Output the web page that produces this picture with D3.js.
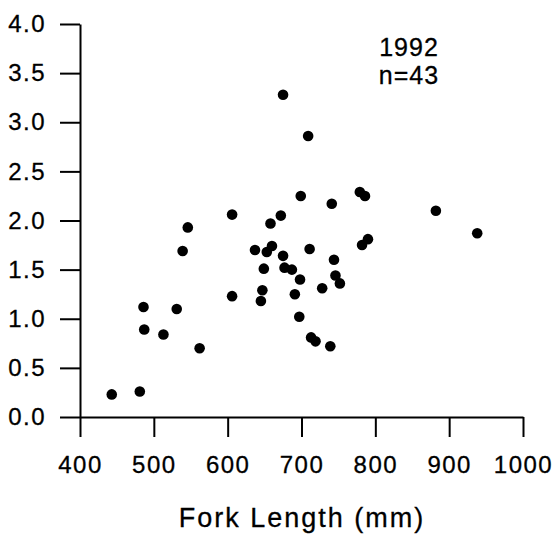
<!DOCTYPE html>
<html>
<head>
<meta charset="utf-8">
<script src="https://cdn.jsdelivr.net/npm/d3@7"></script>
<style>
  html, body { margin: 0; padding: 0; background: #fff; }
  svg { display: block; }
  text { font-family: "Liberation Sans", Arial, Helvetica, sans-serif; fill: #000; }
</style>
</head>
<body>
<svg id="chart" width="555" height="540"></svg>
<script>
// Data
const forkLength = [443, 481, 486, 487, 513, 531, 539, 546, 562, 606, 606, 637, 653, 660, 658, 672,
  649, 647, 645, 675, 677, 687, 698, 691, 697, 711, 713, 719, 728, 739, 744, 746, 752, 741, 699,
  675, 709, 779, 786, 782, 790, 882, 938];
const yValues = [0.23, 0.26, 1.12, 0.89, 0.84, 1.10, 1.69, 1.93, 0.70, 2.06, 1.23, 1.70, 1.68, 1.74, 1.97, 2.05,
  1.51, 1.29, 1.18, 1.64, 1.52, 1.50, 1.40, 1.25, 1.02, 1.71, 0.81, 0.77, 1.31, 0.72, 1.60, 1.44, 1.36, 2.17, 2.25,
  3.28, 2.86, 2.29, 2.25, 1.75, 1.81, 2.10, 1.87];
const xTicks = [400, 500, 600, 700, 800, 900, 1000];
const yTicks = [0.0, 0.5, 1.0, 1.5, 2.0, 2.5, 3.0, 3.5, 4.0];
const xTitle = "Fork Length (mm)";
const annotLines = ["1992", "n=43"];

const svg = d3.select("#chart");
svg.append("rect").attr("width", 555).attr("height", 540).attr("fill", "#fff");

const x = d3.scaleLinear().domain([400, 1000]).range([80, 523]);
const y = d3.scaleLinear().domain([0, 4]).range([417, 24]);

// Y axis
const yAxis = svg.append("g")
  .attr("transform", "translate(80,0)")
  .call(d3.axisLeft(y).tickValues(yTicks).tickSize(20).tickSizeOuter(0).tickPadding(14)
    .tickFormat(d3.format(".1f")));
yAxis.selectAll("path, line").attr("stroke", "#000").attr("stroke-width", 2);
yAxis.selectAll("text").attr("font-size", 24).style("letter-spacing", "1.5px")
  .attr("font-family", "'Liberation Sans', Arial, sans-serif").attr("fill", "#000")
  .attr("stroke", "#000").attr("stroke-width", 0.3);

// X axis
const xAxis = svg.append("g")
  .attr("transform", "translate(0,417)")
  .call(d3.axisBottom(x).tickValues(xTicks).tickSize(20).tickSizeOuter(0).tickPadding(19)
    .tickFormat(d3.format("d")));
xAxis.selectAll("path, line").attr("stroke", "#000").attr("stroke-width", 2);
xAxis.selectAll("text").attr("font-size", 24).style("letter-spacing", "1.5px")
  .attr("font-family", "'Liberation Sans', Arial, sans-serif").attr("fill", "#000")
  .attr("stroke", "#000").attr("stroke-width", 0.3);

// Axis title
svg.append("text")
  .attr("x", 302).attr("y", 527)
  .attr("text-anchor", "middle")
  .attr("font-size", 27)
  .style("letter-spacing", "2px")
  .attr("stroke", "#000").attr("stroke-width", 0.3)
  .text(xTitle);

// Annotation
annotLines.forEach((t, i) => {
  svg.append("text")
    .attr("x", 409)
    .attr("y", 56 + i * 28)
    .attr("text-anchor", "middle")
    .attr("font-size", 25)
    .style("letter-spacing", "1px")
    .attr("stroke", "#000").attr("stroke-width", 0.3)
    .text(t);
});

// Points
svg.append("g").selectAll("circle")
  .data(forkLength.map((d, i) => ({ fl: d, v: yValues[i] })))
  .join("circle")
  .attr("cx", d => x(d.fl))
  .attr("cy", d => y(d.v))
  .attr("r", 5.3)
  .attr("fill", "#000");
</script>
</body>
</html>
